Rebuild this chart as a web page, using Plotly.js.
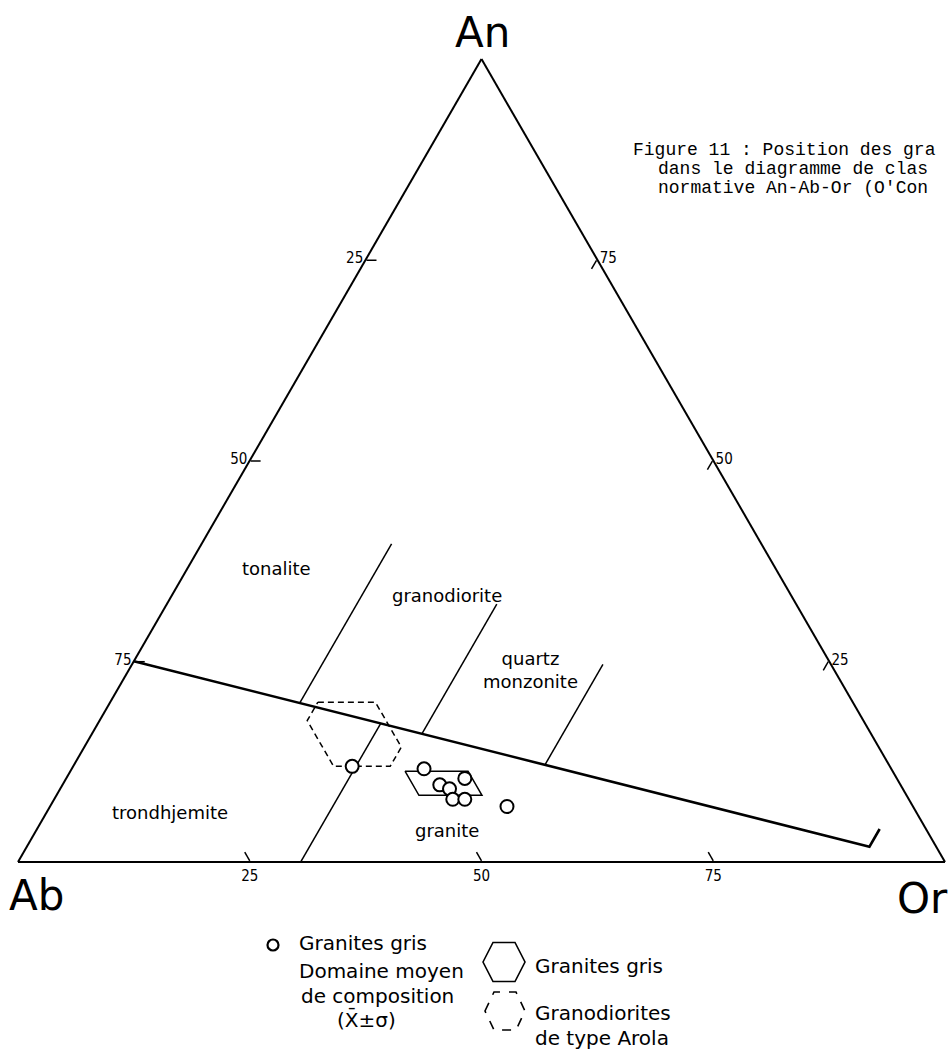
<!DOCTYPE html>
<html>
<head>
<meta charset="utf-8">
<script src="https://cdn.plot.ly/plotly-3.0.1.min.js"></script>
<style>
	html, body { margin: 0; padding: 0; background: #fff; }
	#chart { width: 951px; height: 1052px; }
</style>
</head>
<body>
<div id="chart"></div>
<script>
// compositions in % (An, Ab, Or)
const tickVals = [25, 50, 75];
const tickText = ['75', '50', '25'];

// main boundary (tonalite/granodiorite/qz monzonite above, trondhjemite/granite below)
const mainAn = [25, 1.9, 4.1];
const mainAb = [75, 7.2, 5.0];
const mainOr = [0, 90.9, 90.9];

// field boundaries
const tonaliteAn = [19.8, 39.6];
const tonaliteAb = [59.7, 39.9];
const tonaliteOr = [20.5, 20.5];

const granodioriteAn = [16.0, 32.1];
const granodioriteAb = [48.4, 32.3];
const granodioriteOr = [35.6, 35.6];

const monzoniteAn = [12.1, 24.6];
const monzoniteAb = [37.1, 24.6];
const monzoniteOr = [50.8, 50.8];

const trondhjemiteAn = [0, 17.3];
const trondhjemiteAb = [69.5, 52.2];
const trondhjemiteOr = [30.5, 30.5];

// granites gris samples
const graniteAn = [11.9, 11.6, 10.4, 9.6, 9.1, 7.8, 7.8, 6.9];
const graniteAb = [58.0, 50.4, 46.6, 49.7, 48.9, 49.2, 47.9, 43.8];
const graniteOr = [30.1, 38.0, 43.0, 40.7, 42.0, 43.0, 44.3, 49.3];

// mean domain (x ± sigma), granites gris
const domainAn = [11.3, 11.3, 8.3, 8.3, 11.3];
const domainAb = [52.6, 45.8, 45.8, 52.6, 52.6];
const domainOr = [36.1, 42.9, 45.9, 39.1, 36.1];

// mean domain, granodiorites de type Arola
const arolaAn = [19.9, 19.9, 14.3, 11.9, 11.9, 17.6, 19.9];
const arolaAb = [57.7, 51.5, 51.5, 53.9, 60.0, 60.0, 57.7];
const arolaOr = [22.4, 28.6, 34.2, 34.2, 28.1, 22.4, 22.4];

const fieldNames = ['tonalite', 'granodiorite', 'quartz<br>monzonite', 'trondhjemite', 'granite'];

// page geometry
const W = 951, H = 1052;
const M = {l: 18, r: 6, t: 59, b: 190};
const PW = W - M.l - M.r, PH = H - M.t - M.b;
const px = x => (x - M.l) / PW;
const py = y => (H - M.b - y) / PH;

function line(a, b, c, width, dash) {
	return {
		type: 'scatterternary', mode: 'lines',
		a: a, b: b, c: c,
		line: {color: '#000', width: width, dash: dash || 'solid'},
		hoverinfo: 'skip', showlegend: false
	};
}

const traces = [
	line(mainAn, mainAb, mainOr, 2.6),
	line(tonaliteAn, tonaliteAb, tonaliteOr, 1.5),
	line(granodioriteAn, granodioriteAb, granodioriteOr, 1.5),
	line(monzoniteAn, monzoniteAb, monzoniteOr, 1.5),
	line(trondhjemiteAn, trondhjemiteAb, trondhjemiteOr, 1.5),
	line(domainAn, domainAb, domainOr, 1.5),
	line(arolaAn, arolaAb, arolaOr, 1.5, '6px,4px'),
	{
		type: 'scatterternary', mode: 'markers',
		a: graniteAn, b: graniteAb, c: graniteOr,
		marker: {symbol: 'circle', size: 13, color: '#fff', line: {color: '#000', width: 2}},
		hoverinfo: 'skip', showlegend: false
	}
];

const axisStyle = {
	tickmode: 'array', tickvals: tickVals, ticktext: tickText,
	ticks: 'inside', ticklen: 10, tickwidth: 1.5, tickcolor: '#000',
	showgrid: false, showline: true, linecolor: '#000', linewidth: 2,
	tickfont: {family: 'DejaVu Sans Condensed, DejaVu Sans, sans-serif', size: 15, color: '#000'},
	title: {text: ''}
};

const labelFont = {family: 'DejaVu Sans, sans-serif', size: 18, color: '#000'};
const legendFont = {family: 'DejaVu Sans, sans-serif', size: 20, color: '#000'};
const bigFont = {family: 'DejaVu Sans, sans-serif', size: 42, color: '#000'};
const monoFont = {family: 'Liberation Mono, DejaVu Sans Mono, monospace', size: 18, color: '#000'};

function note(text, x, y, font, xanchor) {
	return {
		text: text, xref: 'paper', yref: 'paper', x: px(x), y: py(y),
		xanchor: xanchor || 'center', yanchor: 'middle',
		showarrow: false, font: font
	};
}

const fieldPos = [[276, 568], [447, 595], [530, 670], [170, 812], [447, 830]];

const annotations = [
	note('An', 482, 32, bigFont),
	note('Ab', 36, 895, bigFont),
	note('Or', 922, 898, bigFont),
	note('Figure 11 : Position des gra', 631, 150, monoFont, 'left'),
	note('dans le diagramme de clas', 656, 169, monoFont, 'left'),
	note('normative An-Ab-Or (O\'Con', 656, 188, monoFont, 'left'),
	note('Granites gris', 297, 943, legendFont, 'left'),
	note('Domaine moyen', 297, 971, legendFont, 'left'),
	note('de composition', 299, 996, legendFont, 'left'),
	note('(X\u0304\u00b1\u03c3)', 366, 1020, legendFont),
	note('Granites gris', 533, 966, legendFont, 'left'),
	note('Granodiorites', 533, 1013, legendFont, 'left'),
	note('de type Arola', 533, 1038, legendFont, 'left')
].concat(fieldNames.map((t, i) => note(t, fieldPos[i][0], fieldPos[i][1], labelFont)));

// legend glyphs
function hexPath(cx, cy, rx, ry, top) {
	const pts = [[cx - rx, cy], [cx - top, cy - ry], [cx + top, cy - ry],
		[cx + rx, cy], [cx + top, cy + ry], [cx - top, cy + ry]];
	return 'M' + pts.map(p => px(p[0]) + ',' + py(p[1])).join('L') + 'Z';
}

const shapes = [
	{type: 'circle', xref: 'paper', yref: 'paper',
		x0: px(267.5), x1: px(278.5), y0: py(950.5), y1: py(939.5),
		line: {color: '#000', width: 2.2}},
	{type: 'path', xref: 'paper', yref: 'paper', path: hexPath(504, 962, 21, 19.5, 11),
		line: {color: '#000', width: 1.6}},
	{type: 'path', xref: 'paper', yref: 'paper', path: hexPath(505, 1011, 20, 19, 11),
		line: {color: '#000', width: 1.6, dash: 'dash'}}
];

Plotly.newPlot('chart', traces, {
	width: W, height: H,
	margin: M,
	paper_bgcolor: '#fff',
	showlegend: false,
	ternary: {
		sum: 100,
		bgcolor: '#fff',
		aaxis: axisStyle,
		baxis: axisStyle,
		caxis: axisStyle
	},
	annotations: annotations,
	shapes: shapes
}, {displayModeBar: false, staticPlot: true});
</script>
</body>
</html>
